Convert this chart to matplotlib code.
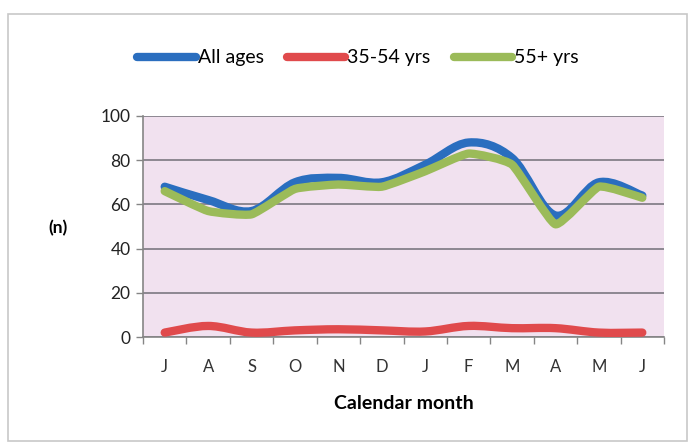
"""Monthly counts by age group, smoothed lines in the old spreadsheet style."""

import matplotlib

matplotlib.use("Agg")
import matplotlib.pyplot as plt  # noqa: E402
from matplotlib.lines import Line2D  # noqa: E402
from matplotlib.patches import PathPatch, Rectangle  # noqa: E402
from matplotlib.path import Path  # noqa: E402

months = ["J", "A", "S", "O", "N", "D", "J", "F", "M", "A", "M", "J"]
all_ages = [68, 62, 57, 70, 72, 70, 78, 88, 81, 55, 70, 64]
age_35_54 = [2, 5, 2, 3, 3.5, 3, 2.5, 5, 4, 4, 2, 2]
age_55_plus = [66, 57, 55.5, 67, 69, 68, 75, 83, 78, 51, 68, 63]

# label, values, colour, smoothing tension (0 = straight segments)
series = [
    ("All ages", all_ages, "#2a6ebf", 1 / 6),
    ("35-54 yrs", age_35_54, "#e04a4c", 1 / 6),
    ("55+ yrs", age_55_plus, "#9bbb59", 1 / 14),
]

plt.rcParams["font.family"] = ["Lato", "DejaVu Sans"]


def smooth_path(xs, ys, k):
    """Bezier path through the points, like a spreadsheet 'smoothed line'."""
    pts = list(zip(xs, ys))
    verts = [pts[0]]
    codes = [Path.MOVETO]
    n = len(pts)
    for i in range(n - 1):
        p0 = pts[max(i - 1, 0)]
        p1 = pts[i]
        p2 = pts[i + 1]
        p3 = pts[min(i + 2, n - 1)]
        c1 = (p1[0] + (p2[0] - p0[0]) * k, p1[1] + (p2[1] - p0[1]) * k)
        c2 = (p2[0] - (p3[0] - p1[0]) * k, p2[1] - (p3[1] - p1[1]) * k)
        verts += [c1, c2, p2]
        codes += [Path.CURVE4] * 3
    return Path(verts, codes)


fig = plt.figure(figsize=(6.88, 4.43), dpi=100)
fig.patches.append(Rectangle((8 / 688, 2 / 443), 679 / 688, 427 / 443,
                             transform=fig.transFigure, fill=False,
                             edgecolor="#c8c8c8", lw=1.2))
ax = fig.add_axes([143 / 688, 1 - 337 / 443, 521 / 688, 221 / 443])
ax.set_facecolor("#f1e1ef")

x = list(range(len(months)))
for label, vals, color, k in series:
    patch = PathPatch(smooth_path(x, vals, k), facecolor="none", edgecolor=color,
                      lw=6, capstyle="round", joinstyle="round", zorder=3)
    ax.add_patch(patch)

ax.set_xlim(-0.5, len(months) - 0.5)
ax.set_ylim(0, 100)
ax.set_yticks(range(0, 101, 20))
ax.yaxis.grid(True, color="#85808a", lw=1.3)
ax.set_axisbelow(True)

ax.set_xticks([i - 0.5 for i in range(len(months) + 1)])
ax.set_xticklabels([])
ax.set_xticks(x, minor=True)
ax.set_xticklabels(months, minor=True)
ax.tick_params(axis="x", which="major", length=5, color="#858585", width=1)
ax.tick_params(axis="x", which="minor", length=0, pad=16, labelsize=12, labelcolor="#333333")
ax.tick_params(axis="y", length=5, color="#858585", width=1, labelsize=12.5, pad=4,
               labelcolor="#222222")

for side in ("top", "right"):
    ax.spines[side].set_visible(False)
for side in ("left", "bottom"):
    ax.spines[side].set_color("#858585")
    ax.spines[side].set_linewidth(1.2)

ax.set_xlabel("Calendar month", fontsize=14, fontweight="bold", labelpad=14)
fig.text(58 / 688, 1 - 228 / 443, "(n)", fontsize=12.5, fontweight="bold",
         ha="center", va="center")

handles = [Line2D([], [], color=c, lw=6, solid_capstyle="round") for _, _, c, _ in series]
fig.legend(handles, [s[0] for s in series], loc="center", ncol=3,
           bbox_to_anchor=(358 / 688, 1 - 58 / 443), frameon=False, fontsize=14,
           handlelength=3.0, handletextpad=0.1, columnspacing=1.2)

fig.savefig("out.png", dpi=100)
